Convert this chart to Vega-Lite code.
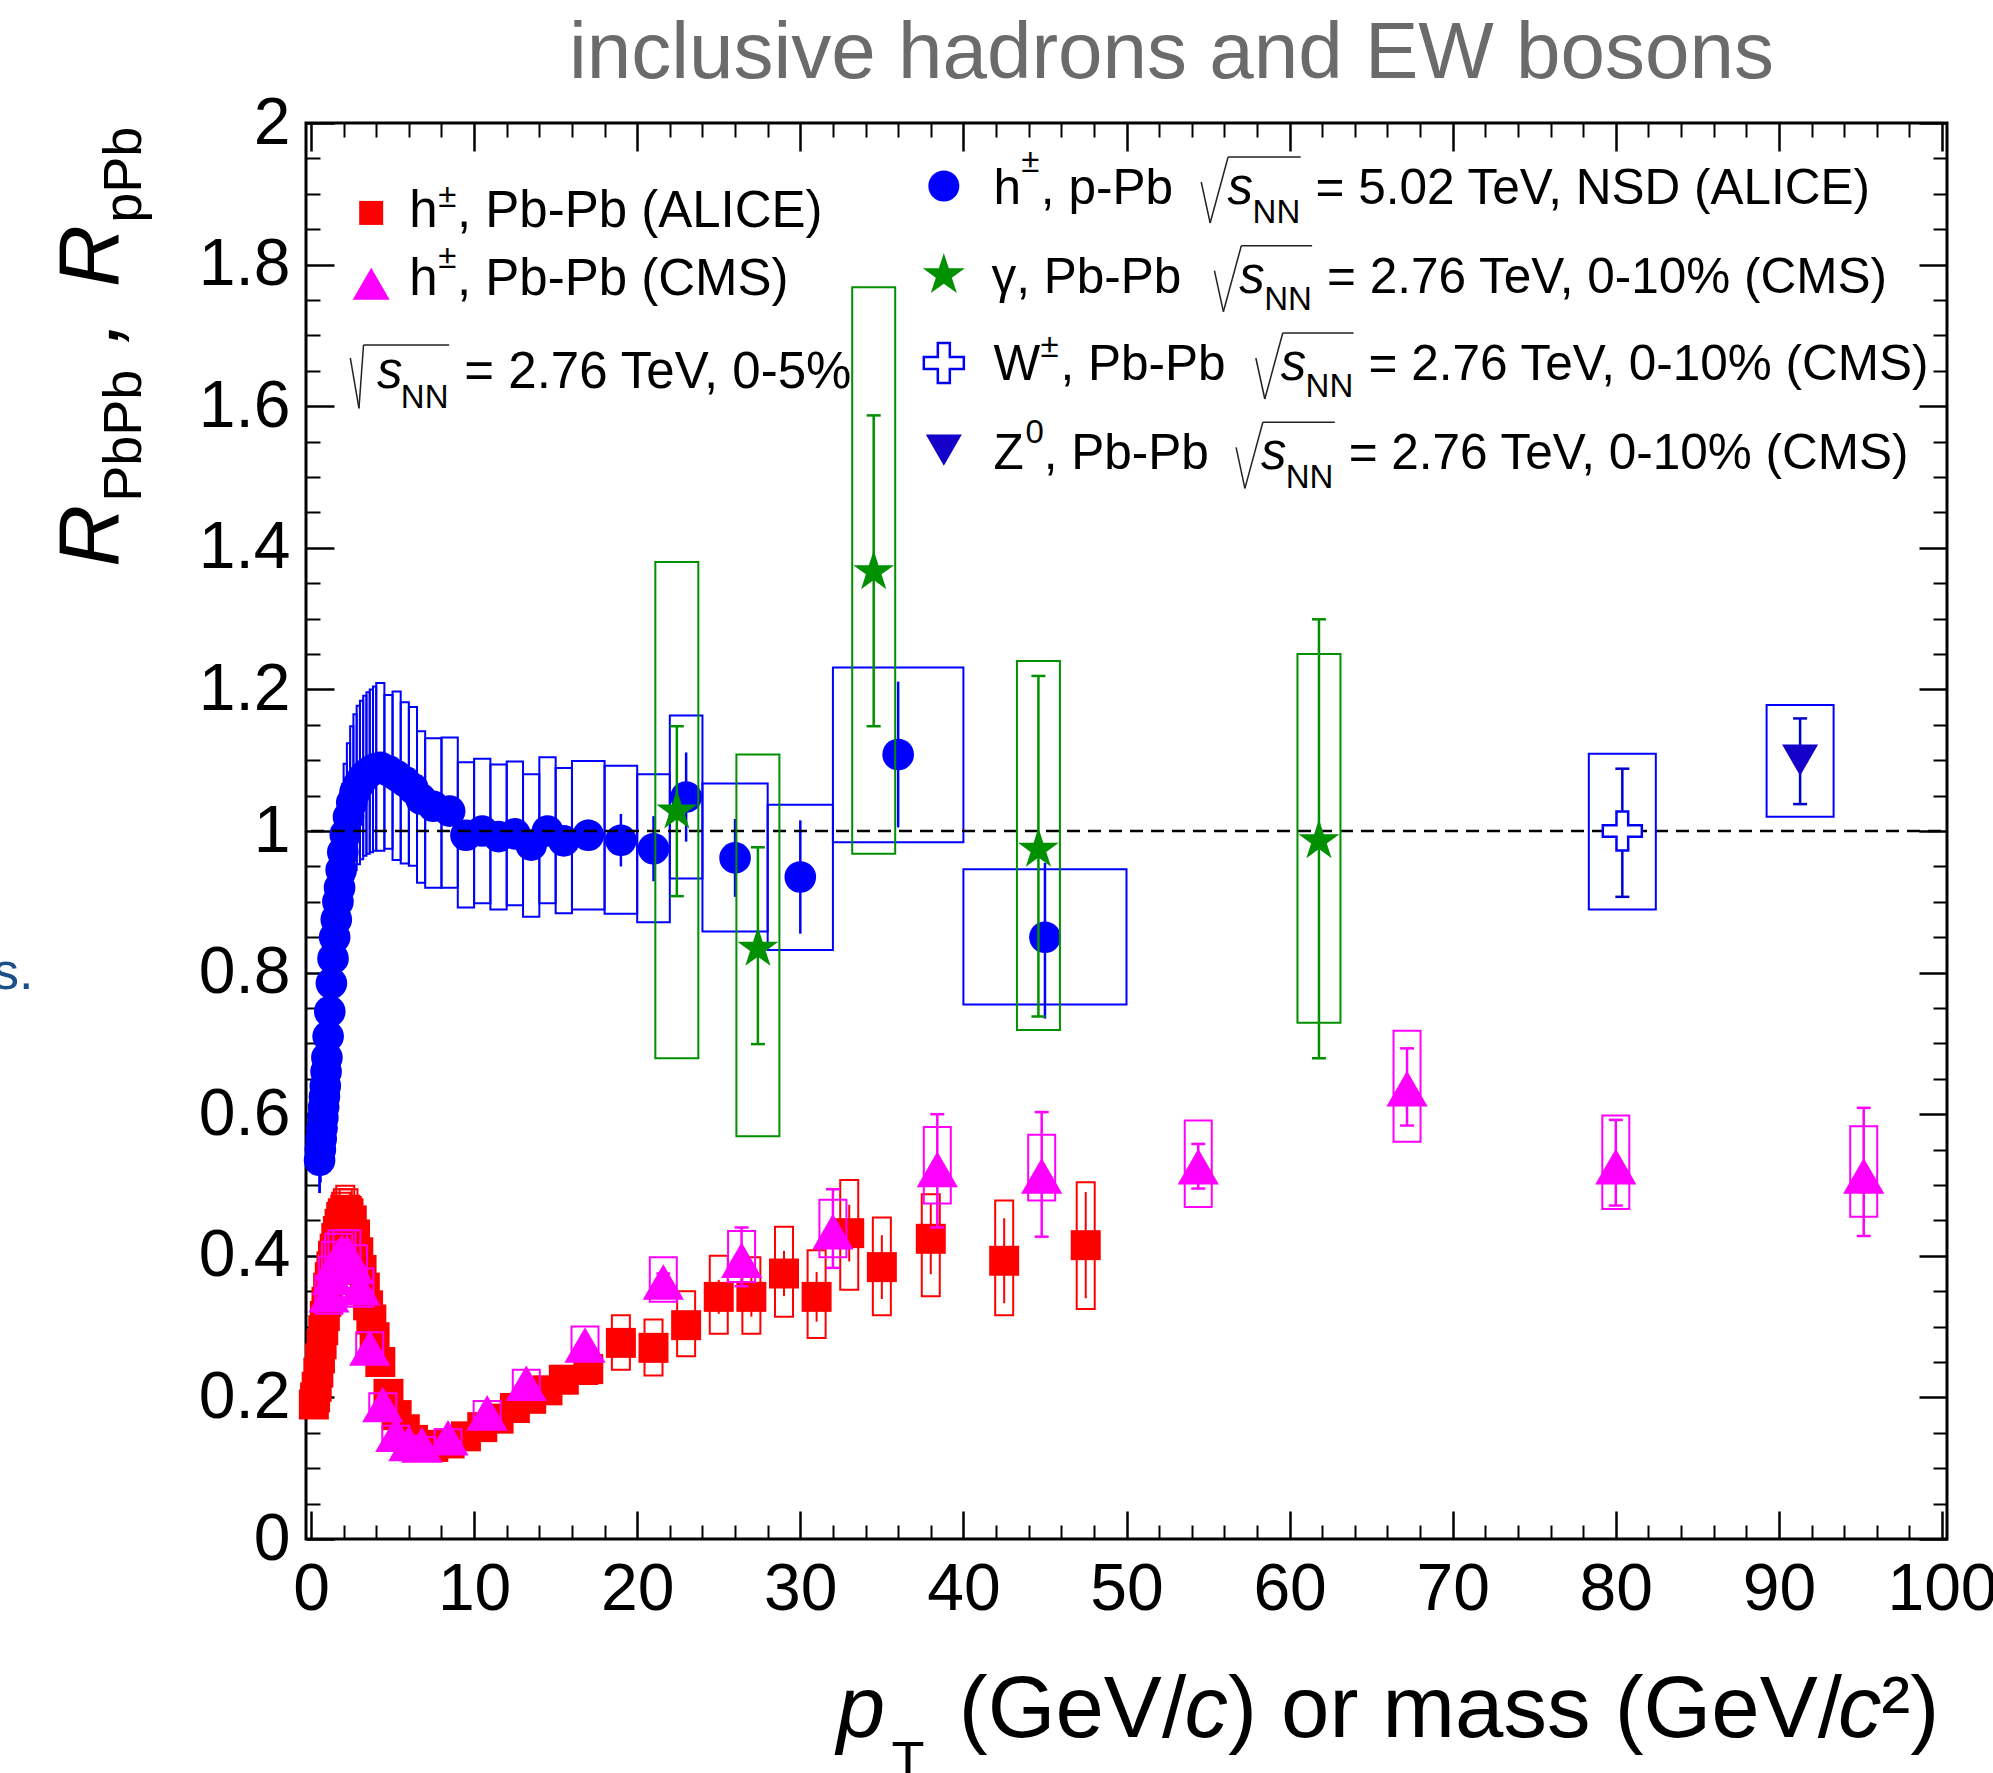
{
  "$schema": "https://vega.github.io/schema/vega-lite/v6.json",
  "width": 1641,
  "height": 1416,
  "autosize": {"type": "none"},
  "padding": {"left": 306, "top": 123, "right": 46, "bottom": 234},
  "background": "#ffffff",
  "title": {"text": "inclusive hadrons and EW bosons", "anchor": "middle", "frame": "group", "dx": 45, "offset": -68, "baseline": "alphabetic", "font": "Liberation Sans", "fontSize": 80, "fontWeight": "normal", "color": "#6b6b6b"},
  "config": {"view": {"stroke": "#000000", "strokeWidth": 3}, "font": "Liberation Sans"},
  "resolve": {"axis": {"x": "independent", "y": "independent"}},
  "datasets": {
    "pPb": [
      {"x":0.525,"xlo":0.5,"xhi":0.55,"y":0.535,"slo":0.49,"shi":0.58,"elo":0.532,"ehi":0.538},
      {"x":0.575,"xlo":0.55,"xhi":0.6,"y":0.55,"slo":0.505,"shi":0.595,"elo":0.547,"ehi":0.553},
      {"x":0.625,"xlo":0.6,"xhi":0.65,"y":0.565,"slo":0.518,"shi":0.612,"elo":0.562,"ehi":0.568},
      {"x":0.675,"xlo":0.65,"xhi":0.7,"y":0.58,"slo":0.53,"shi":0.63,"elo":0.577,"ehi":0.583},
      {"x":0.725,"xlo":0.7,"xhi":0.75,"y":0.595,"slo":0.543,"shi":0.647,"elo":0.592,"ehi":0.598},
      {"x":0.775,"xlo":0.75,"xhi":0.8,"y":0.61,"slo":0.556,"shi":0.664,"elo":0.607,"ehi":0.613},
      {"x":0.825,"xlo":0.8,"xhi":0.85,"y":0.625,"slo":0.568,"shi":0.682,"elo":0.622,"ehi":0.628},
      {"x":0.875,"xlo":0.85,"xhi":0.9,"y":0.64,"slo":0.58,"shi":0.7,"elo":0.637,"ehi":0.643},
      {"x":0.925,"xlo":0.9,"xhi":0.95,"y":0.66,"slo":0.598,"shi":0.722,"elo":0.657,"ehi":0.663},
      {"x":0.975,"xlo":0.95,"xhi":1.0,"y":0.68,"slo":0.616,"shi":0.744,"elo":0.677,"ehi":0.683},
      {"x":1.05,"xlo":1.0,"xhi":1.1,"y":0.71,"slo":0.643,"shi":0.777,"elo":0.707,"ehi":0.713},
      {"x":1.15,"xlo":1.1,"xhi":1.2,"y":0.745,"slo":0.674,"shi":0.816,"elo":0.742,"ehi":0.748},
      {"x":1.25,"xlo":1.2,"xhi":1.3,"y":0.785,"slo":0.71,"shi":0.86,"elo":0.782,"ehi":0.788},
      {"x":1.35,"xlo":1.3,"xhi":1.4,"y":0.82,"slo":0.741,"shi":0.899,"elo":0.817,"ehi":0.823},
      {"x":1.45,"xlo":1.4,"xhi":1.5,"y":0.85,"slo":0.768,"shi":0.932,"elo":0.847,"ehi":0.853},
      {"x":1.55,"xlo":1.5,"xhi":1.6,"y":0.875,"slo":0.79,"shi":0.96,"elo":0.872,"ehi":0.878},
      {"x":1.65,"xlo":1.6,"xhi":1.7,"y":0.9,"slo":0.812,"shi":0.988,"elo":0.897,"ehi":0.903},
      {"x":1.75,"xlo":1.7,"xhi":1.8,"y":0.92,"slo":0.83,"shi":1.01,"elo":0.917,"ehi":0.923},
      {"x":1.85,"xlo":1.8,"xhi":1.9,"y":0.945,"slo":0.852,"shi":1.038,"elo":0.942,"ehi":0.948},
      {"x":1.95,"xlo":1.9,"xhi":2.0,"y":0.97,"slo":0.874,"shi":1.066,"elo":0.967,"ehi":0.973},
      {"x":2.1,"xlo":2.0,"xhi":2.2,"y":0.995,"slo":0.895,"shi":1.095,"elo":0.992,"ehi":0.998},
      {"x":2.3,"xlo":2.2,"xhi":2.4,"y":1.02,"slo":0.916,"shi":1.124,"elo":1.017,"ehi":1.023},
      {"x":2.5,"xlo":2.4,"xhi":2.6,"y":1.04,"slo":0.932,"shi":1.148,"elo":1.037,"ehi":1.043},
      {"x":2.7,"xlo":2.6,"xhi":2.8,"y":1.055,"slo":0.945,"shi":1.165,"elo":1.052,"ehi":1.058},
      {"x":2.9,"xlo":2.8,"xhi":3.0,"y":1.065,"slo":0.953,"shi":1.177,"elo":1.062,"ehi":1.068},
      {"x":3.1,"xlo":3.0,"xhi":3.2,"y":1.072,"slo":0.96,"shi":1.184,"elo":1.068,"ehi":1.076},
      {"x":3.3,"xlo":3.2,"xhi":3.4,"y":1.078,"slo":0.965,"shi":1.191,"elo":1.074,"ehi":1.082},
      {"x":3.5,"xlo":3.4,"xhi":3.6,"y":1.082,"slo":0.968,"shi":1.196,"elo":1.078,"ehi":1.086},
      {"x":3.7,"xlo":3.6,"xhi":3.8,"y":1.085,"slo":0.97,"shi":1.2,"elo":1.081,"ehi":1.089},
      {"x":3.9,"xlo":3.8,"xhi":4.0,"y":1.088,"slo":0.972,"shi":1.204,"elo":1.084,"ehi":1.092},
      {"x":4.25,"xlo":4.0,"xhi":4.5,"y":1.09,"slo":0.972,"shi":1.209,"elo":1.085,"ehi":1.095},
      {"x":4.75,"xlo":4.5,"xhi":5.0,"y":1.085,"slo":0.975,"shi":1.192,"elo":1.08,"ehi":1.09},
      {"x":5.25,"xlo":5.0,"xhi":5.5,"y":1.078,"slo":0.959,"shi":1.197,"elo":1.072,"ehi":1.084},
      {"x":5.75,"xlo":5.5,"xhi":6.0,"y":1.07,"slo":0.954,"shi":1.182,"elo":1.063,"ehi":1.077},
      {"x":6.25,"xlo":6.0,"xhi":6.5,"y":1.06,"slo":0.951,"shi":1.175,"elo":1.053,"ehi":1.067},
      {"x":6.75,"xlo":6.5,"xhi":7.0,"y":1.045,"slo":0.927,"shi":1.141,"elo":1.037,"ehi":1.053},
      {"x":7.5,"xlo":7,"xhi":8,"y":1.035,"slo":0.92,"shi":1.131,"elo":1.026,"ehi":1.044},
      {"x":8.5,"xlo":8,"xhi":9,"y":1.028,"slo":0.92,"shi":1.132,"elo":1.017,"ehi":1.039},
      {"x":9.5,"xlo":9,"xhi":10,"y":0.994,"slo":0.892,"shi":1.097,"elo":0.982,"ehi":1.006},
      {"x":10.5,"xlo":10,"xhi":11,"y":1.0,"slo":0.898,"shi":1.102,"elo":0.987,"ehi":1.013},
      {"x":11.5,"xlo":11,"xhi":12,"y":0.992,"slo":0.889,"shi":1.094,"elo":0.978,"ehi":1.006},
      {"x":12.5,"xlo":12,"xhi":13,"y":0.996,"slo":0.895,"shi":1.098,"elo":0.981,"ehi":1.011},
      {"x":13.5,"xlo":13,"xhi":14,"y":0.98,"slo":0.879,"shi":1.08,"elo":0.963,"ehi":0.997},
      {"x":14.5,"xlo":14,"xhi":15,"y":1.0,"slo":0.898,"shi":1.104,"elo":0.982,"ehi":1.018},
      {"x":15.5,"xlo":15,"xhi":16,"y":0.986,"slo":0.884,"shi":1.089,"elo":0.966,"ehi":1.006},
      {"x":17,"xlo":16,"xhi":18,"y":0.994,"slo":0.889,"shi":1.099,"elo":0.972,"ehi":1.016},
      {"x":19,"xlo":18,"xhi":20,"y":0.987,"slo":0.883,"shi":1.092,"elo":0.95,"ehi":1.024},
      {"x":21,"xlo":20,"xhi":22,"y":0.975,"slo":0.871,"shi":1.08,"elo":0.929,"ehi":1.021},
      {"x":23,"xlo":22,"xhi":24,"y":1.048,"slo":0.933,"shi":1.163,"elo":0.985,"ehi":1.111},
      {"x":26,"xlo":24,"xhi":28,"y":0.962,"slo":0.858,"shi":1.067,"elo":0.907,"ehi":1.017},
      {"x":30,"xlo":28,"xhi":32,"y":0.935,"slo":0.832,"shi":1.037,"elo":0.855,"ehi":1.015},
      {"x":36,"xlo":32,"xhi":40,"y":1.108,"slo":0.984,"shi":1.231,"elo":1.005,"ehi":1.211},
      {"x":45,"xlo":40,"xhi":50,"y":0.85,"slo":0.755,"shi":0.946,"elo":0.735,"ehi":0.955}
    ],
    "PbPbALICE": [
      {"x":0.175,"y":0.19,"slo":0.172,"shi":0.208,"elo":0.189,"ehi":0.191},
      {"x":0.25,"y":0.2,"slo":0.181,"shi":0.219,"elo":0.199,"ehi":0.201},
      {"x":0.35,"y":0.215,"slo":0.195,"shi":0.235,"elo":0.214,"ehi":0.216},
      {"x":0.45,"y":0.235,"slo":0.214,"shi":0.256,"elo":0.234,"ehi":0.236},
      {"x":0.55,"y":0.255,"slo":0.232,"shi":0.278,"elo":0.254,"ehi":0.256},
      {"x":0.65,"y":0.275,"slo":0.251,"shi":0.299,"elo":0.274,"ehi":0.276},
      {"x":0.75,"y":0.295,"slo":0.27,"shi":0.32,"elo":0.294,"ehi":0.296},
      {"x":0.85,"y":0.315,"slo":0.289,"shi":0.341,"elo":0.314,"ehi":0.316},
      {"x":0.95,"y":0.335,"slo":0.308,"shi":0.362,"elo":0.334,"ehi":0.336},
      {"x":1.05,"y":0.355,"slo":0.327,"shi":0.383,"elo":0.354,"ehi":0.356},
      {"x":1.15,"y":0.37,"slo":0.341,"shi":0.399,"elo":0.369,"ehi":0.371},
      {"x":1.25,"y":0.385,"slo":0.355,"shi":0.415,"elo":0.384,"ehi":0.386},
      {"x":1.35,"y":0.4,"slo":0.369,"shi":0.431,"elo":0.399,"ehi":0.401},
      {"x":1.45,"y":0.41,"slo":0.379,"shi":0.441,"elo":0.409,"ehi":0.411},
      {"x":1.55,"y":0.425,"slo":0.393,"shi":0.457,"elo":0.424,"ehi":0.426},
      {"x":1.65,"y":0.435,"slo":0.403,"shi":0.467,"elo":0.434,"ehi":0.436},
      {"x":1.75,"y":0.445,"slo":0.412,"shi":0.478,"elo":0.444,"ehi":0.446},
      {"x":1.85,"y":0.455,"slo":0.421,"shi":0.489,"elo":0.454,"ehi":0.456},
      {"x":1.95,"y":0.46,"slo":0.426,"shi":0.494,"elo":0.459,"ehi":0.461},
      {"x":2.1,"y":0.465,"slo":0.431,"shi":0.499,"elo":0.464,"ehi":0.466},
      {"x":2.3,"y":0.46,"slo":0.426,"shi":0.494,"elo":0.459,"ehi":0.461},
      {"x":2.5,"y":0.45,"slo":0.417,"shi":0.483,"elo":0.449,"ehi":0.451},
      {"x":2.7,"y":0.43,"slo":0.398,"shi":0.462,"elo":0.429,"ehi":0.431},
      {"x":2.9,"y":0.405,"slo":0.375,"shi":0.435,"elo":0.404,"ehi":0.406},
      {"x":3.1,"y":0.38,"slo":0.352,"shi":0.408,"elo":0.379,"ehi":0.381},
      {"x":3.3,"y":0.355,"slo":0.329,"shi":0.381,"elo":0.354,"ehi":0.356},
      {"x":3.5,"y":0.33,"slo":0.306,"shi":0.354,"elo":0.329,"ehi":0.331},
      {"x":3.7,"y":0.31,"slo":0.288,"shi":0.332,"elo":0.309,"ehi":0.311},
      {"x":3.9,"y":0.285,"slo":0.265,"shi":0.305,"elo":0.284,"ehi":0.286},
      {"x":4.25,"y":0.25,"slo":0.232,"shi":0.268,"elo":0.249,"ehi":0.251},
      {"x":4.75,"y":0.205,"slo":0.19,"shi":0.22,"elo":0.204,"ehi":0.206},
      {"x":5.25,"y":0.175,"slo":0.162,"shi":0.188,"elo":0.174,"ehi":0.176},
      {"x":5.75,"y":0.155,"slo":0.143,"shi":0.167,"elo":0.154,"ehi":0.156},
      {"x":6.25,"y":0.14,"slo":0.129,"shi":0.151,"elo":0.139,"ehi":0.141},
      {"x":6.75,"y":0.133,"slo":0.122,"shi":0.144,"elo":0.132,"ehi":0.134},
      {"x":7.5,"y":0.13,"slo":0.119,"shi":0.141,"elo":0.129,"ehi":0.131},
      {"x":8.5,"y":0.135,"slo":0.124,"shi":0.146,"elo":0.134,"ehi":0.136},
      {"x":9.5,"y":0.145,"slo":0.133,"shi":0.157,"elo":0.143,"ehi":0.147},
      {"x":10.5,"y":0.158,"slo":0.145,"shi":0.171,"elo":0.156,"ehi":0.16},
      {"x":11.5,"y":0.17,"slo":0.156,"shi":0.184,"elo":0.168,"ehi":0.172},
      {"x":12.5,"y":0.185,"slo":0.17,"shi":0.2,"elo":0.182,"ehi":0.188},
      {"x":13.5,"y":0.198,"slo":0.182,"shi":0.214,"elo":0.195,"ehi":0.201},
      {"x":14.5,"y":0.21,"slo":0.193,"shi":0.227,"elo":0.206,"ehi":0.214},
      {"x":15.5,"y":0.225,"slo":0.206,"shi":0.244,"elo":0.221,"ehi":0.229},
      {"x":17,"y":0.24,"slo":0.219,"shi":0.261,"elo":0.235,"ehi":0.245},
      {"x":19,"y":0.277,"slo":0.239,"shi":0.316,"elo":0.262,"ehi":0.292},
      {"x":21,"y":0.27,"slo":0.231,"shi":0.31,"elo":0.253,"ehi":0.287},
      {"x":23,"y":0.302,"slo":0.258,"shi":0.35,"elo":0.282,"ehi":0.322},
      {"x":25,"y":0.342,"slo":0.29,"shi":0.4,"elo":0.318,"ehi":0.366},
      {"x":27,"y":0.342,"slo":0.29,"shi":0.398,"elo":0.314,"ehi":0.37},
      {"x":29,"y":0.375,"slo":0.314,"shi":0.441,"elo":0.343,"ehi":0.407},
      {"x":31,"y":0.342,"slo":0.284,"shi":0.408,"elo":0.307,"ehi":0.377},
      {"x":33,"y":0.432,"slo":0.352,"shi":0.507,"elo":0.392,"ehi":0.472},
      {"x":35,"y":0.384,"slo":0.316,"shi":0.454,"elo":0.339,"ehi":0.429},
      {"x":38,"y":0.424,"slo":0.343,"shi":0.487,"elo":0.374,"ehi":0.474},
      {"x":42.5,"y":0.393,"slo":0.316,"shi":0.478,"elo":0.333,"ehi":0.453},
      {"x":47.5,"y":0.415,"slo":0.325,"shi":0.504,"elo":0.34,"ehi":0.49}
    ],
    "PbPbCMS": [
      {"x":1.1,"y":0.345,"slo":0.318,"shi":0.372,"elo":0.343,"ehi":0.347},
      {"x":1.3,"y":0.37,"slo":0.341,"shi":0.399,"elo":0.368,"ehi":0.372},
      {"x":1.5,"y":0.39,"slo":0.36,"shi":0.42,"elo":0.388,"ehi":0.392},
      {"x":1.7,"y":0.4,"slo":0.369,"shi":0.431,"elo":0.398,"ehi":0.402},
      {"x":1.9,"y":0.405,"slo":0.374,"shi":0.436,"elo":0.403,"ehi":0.407},
      {"x":2.2,"y":0.405,"slo":0.374,"shi":0.436,"elo":0.403,"ehi":0.407},
      {"x":2.6,"y":0.385,"slo":0.355,"shi":0.415,"elo":0.383,"ehi":0.387},
      {"x":3.0,"y":0.355,"slo":0.328,"shi":0.382,"elo":0.353,"ehi":0.357},
      {"x":3.6,"y":0.27,"slo":0.248,"shi":0.292,"elo":0.268,"ehi":0.272},
      {"x":4.4,"y":0.19,"slo":0.174,"shi":0.206,"elo":0.188,"ehi":0.192},
      {"x":5.2,"y":0.148,"slo":0.136,"shi":0.16,"elo":0.146,"ehi":0.15},
      {"x":6.0,"y":0.135,"slo":0.124,"shi":0.146,"elo":0.133,"ehi":0.137},
      {"x":6.8,"y":0.133,"slo":0.122,"shi":0.144,"elo":0.131,"ehi":0.135},
      {"x":8.4,"y":0.143,"slo":0.131,"shi":0.155,"elo":0.141,"ehi":0.145},
      {"x":10.8,"y":0.178,"slo":0.157,"shi":0.195,"elo":0.175,"ehi":0.181},
      {"x":13.2,"y":0.22,"slo":0.2,"shi":0.239,"elo":0.216,"ehi":0.224},
      {"x":16.8,"y":0.274,"slo":0.257,"shi":0.3,"elo":0.268,"ehi":0.28},
      {"x":21.6,"y":0.363,"slo":0.335,"shi":0.398,"elo":0.35,"ehi":0.375},
      {"x":26.4,"y":0.394,"slo":0.363,"shi":0.435,"elo":0.357,"ehi":0.44},
      {"x":32.0,"y":0.434,"slo":0.398,"shi":0.479,"elo":0.383,"ehi":0.494},
      {"x":38.4,"y":0.522,"slo":0.474,"shi":0.582,"elo":0.44,"ehi":0.6},
      {"x":44.8,"y":0.513,"slo":0.478,"shi":0.571,"elo":0.427,"ehi":0.603},
      {"x":54.4,"y":0.526,"slo":0.469,"shi":0.591,"elo":0.495,"ehi":0.558},
      {"x":67.2,"y":0.636,"slo":0.561,"shi":0.718,"elo":0.584,"ehi":0.693},
      {"x":80.0,"y":0.526,"slo":0.466,"shi":0.598,"elo":0.471,"ehi":0.592},
      {"x":95.2,"y":0.513,"slo":0.455,"shi":0.583,"elo":0.428,"ehi":0.609}
    ],
    "gamma": [
      {"x":22.43,"y":1.031,"slo":0.679,"shi":1.38,"elo":0.908,"ehi":1.148},
      {"x":27.4,"y":0.837,"slo":0.569,"shi":1.108,"elo":0.699,"ehi":0.977},
      {"x":34.5,"y":1.369,"slo":0.968,"shi":1.768,"elo":1.148,"ehi":1.587},
      {"x":44.6,"y":0.977,"slo":0.719,"shi":1.24,"elo":0.738,"ehi":1.219},
      {"x":61.8,"y":0.989,"slo":0.729,"shi":1.25,"elo":0.679,"ehi":1.299}
    ],
    "W": [{"x":80.4,"y":1.0,"slo":0.889,"shi":1.109,"elo":0.907,"ehi":1.088}],
    "Z": [{"x":91.3,"y":1.1,"slo":1.02,"shi":1.178,"elo":1.038,"ehi":1.159}],
    "one": [{}]
  },
  "layer": [
    {
      "data": {"name": "pPb"},
      "mark": {"type": "rect", "fillOpacity": 0, "stroke": "#0000ff", "strokeWidth": 2},
      "encoding": {
        "x": {"field": "xlo", "type": "quantitative", "scale": {"domain": [0, 100], "nice": false, "zero": false},
          "axis": {"orient": "bottom", "values": [0,10,20,30,40,50,60,70,80,90,100], "format": "d", "tickSize": -28, "tickWidth": 2.5, "tickColor": "#000000", "domain": false, "grid": false, "labelFont": "Liberation Sans", "labelFontSize": 66, "labelColor": "#000000", "labelPadding": 46, "labelFlush": false, "labelOverlap": false, "title": null}},
        "x2": {"field": "xhi"},
        "y": {"field": "slo", "type": "quantitative", "scale": {"domain": [0, 2], "nice": false, "zero": false},
          "axis": {"orient": "left", "values": [0,0.2,0.4,0.6,0.8,1,1.2,1.4,1.6,1.8,2], "format": "~g", "tickSize": -28, "tickWidth": 2.5, "tickColor": "#000000", "domain": false, "grid": false, "labelFont": "Liberation Sans", "labelFontSize": 66, "labelColor": "#000000", "labelPadding": 44, "labelFlush": false, "labelOverlap": false, "title": null}},
        "y2": {"field": "shi"}
      }
    },
    {
      "data": {"name": "pPb"},
      "mark": {"type": "rule", "color": "#0000ff", "strokeWidth": 2.5},
      "encoding": {
        "x": {"field": "x", "type": "quantitative",
          "axis": {"orient": "bottom", "values": [2,4,6,8,12,14,16,18,22,24,26,28,32,34,36,38,42,44,46,48,52,54,56,58,62,64,66,68,72,74,76,78,82,84,86,88,92,94,96,98], "tickSize": -14, "tickWidth": 2, "tickColor": "#000000", "labels": false, "domain": false, "grid": false, "title": null}},
        "y": {"field": "elo", "type": "quantitative",
          "axis": {"orient": "left", "values": [0.05,0.1,0.15,0.25,0.3,0.35,0.45,0.5,0.55,0.65,0.7,0.75,0.85,0.9,0.95,1.05,1.1,1.15,1.25,1.3,1.35,1.45,1.5,1.55,1.65,1.7,1.75,1.85,1.9,1.95], "tickSize": -14, "tickWidth": 2, "tickColor": "#000000", "labels": false, "domain": false, "grid": false, "title": null}},
        "y2": {"field": "ehi"}
      }
    },
    {
      "data": {"name": "pPb"},
      "mark": {"type": "point", "shape": "circle", "filled": true, "size": 1000, "color": "#0000ff", "opacity": 1},
      "encoding": {
        "x": {"field": "x", "type": "quantitative",
          "axis": {"orient": "top", "values": [0,10,20,30,40,50,60,70,80,90,100], "tickSize": -28, "tickWidth": 2.5, "tickColor": "#000000", "labels": false, "domain": false, "grid": false, "title": null}},
        "y": {"field": "y", "type": "quantitative",
          "axis": {"orient": "right", "values": [0,0.2,0.4,0.6,0.8,1,1.2,1.4,1.6,1.8,2], "tickSize": -28, "tickWidth": 2.5, "tickColor": "#000000", "labels": false, "domain": false, "grid": false, "title": null}}
      }
    },
    {
      "data": {"name": "PbPbALICE"},
      "mark": {"type": "bar", "size": 18, "fillOpacity": 0, "stroke": "#ff0000", "strokeWidth": 2},
      "encoding": {
        "x": {"field": "x", "type": "quantitative",
          "axis": {"orient": "top", "values": [2,4,6,8,12,14,16,18,22,24,26,28,32,34,36,38,42,44,46,48,52,54,56,58,62,64,66,68,72,74,76,78,82,84,86,88,92,94,96,98], "tickSize": -14, "tickWidth": 2, "tickColor": "#000000", "labels": false, "domain": false, "grid": false, "title": null}},
        "y": {"field": "slo", "type": "quantitative",
          "axis": {"orient": "right", "values": [0.05,0.1,0.15,0.25,0.3,0.35,0.45,0.5,0.55,0.65,0.7,0.75,0.85,0.9,0.95,1.05,1.1,1.15,1.25,1.3,1.35,1.45,1.5,1.55,1.65,1.7,1.75,1.85,1.9,1.95], "tickSize": -14, "tickWidth": 2, "tickColor": "#000000", "labels": false, "domain": false, "grid": false, "title": null}},
        "y2": {"field": "shi"}
      }
    },
    {
      "data": {"name": "PbPbALICE"},
      "mark": {"type": "rule", "color": "#ff0000", "strokeWidth": 2},
      "encoding": {
        "x": {"field": "x", "type": "quantitative", "axis": null},
        "y": {"field": "elo", "type": "quantitative", "axis": null},
        "y2": {"field": "ehi"}
      }
    },
    {
      "data": {"name": "PbPbALICE"},
      "mark": {"type": "point", "shape": "square", "filled": true, "size": 900, "color": "#ff0000", "opacity": 1},
      "encoding": {
        "x": {"field": "x", "type": "quantitative", "axis": null},
        "y": {"field": "y", "type": "quantitative", "axis": null}
      }
    },
    {
      "data": {"name": "one"},
      "mark": {"type": "rule", "color": "#000000", "strokeWidth": 2.5, "strokeDash": [13, 8]},
      "encoding": {
        "x": {"datum": 0, "axis": null},
        "x2": {"datum": 100},
        "y": {"datum": 1, "axis": null}
      }
    },
    {
      "data": {"name": "PbPbCMS"},
      "mark": {"type": "bar", "size": 27, "fillOpacity": 0, "stroke": "#ff00ff", "strokeWidth": 2},
      "encoding": {
        "x": {"field": "x", "type": "quantitative", "axis": null},
        "y": {"field": "slo", "type": "quantitative", "axis": null},
        "y2": {"field": "shi"}
      }
    },
    {
      "data": {"name": "PbPbCMS"},
      "mark": {"type": "rule", "color": "#ff00ff", "strokeWidth": 2.5},
      "encoding": {
        "x": {"field": "x", "type": "quantitative", "axis": null},
        "y": {"field": "elo", "type": "quantitative", "axis": null},
        "y2": {"field": "ehi"}
      }
    },
    {
      "data": {"name": "PbPbCMS"},
      "transform": [{"fold": ["elo", "ehi"], "as": ["k", "v"]}],
      "mark": {"type": "tick", "orient": "horizontal", "size": 14, "thickness": 2.5, "color": "#ff00ff", "opacity": 1},
      "encoding": {
        "x": {"field": "x", "type": "quantitative", "axis": null},
        "y": {"field": "v", "type": "quantitative", "axis": null}
      }
    },
    {
      "data": {"name": "PbPbCMS"},
      "mark": {"type": "point", "shape": "triangle-up", "filled": true, "size": 1700, "color": "#ff00ff", "opacity": 1},
      "encoding": {
        "x": {"field": "x", "type": "quantitative", "axis": null},
        "y": {"field": "y", "type": "quantitative", "axis": null}
      }
    },
    {
      "data": {"name": "gamma"},
      "mark": {"type": "bar", "size": 43, "fillOpacity": 0, "stroke": "#009000", "strokeWidth": 2},
      "encoding": {
        "x": {"field": "x", "type": "quantitative", "axis": null},
        "y": {"field": "slo", "type": "quantitative", "axis": null},
        "y2": {"field": "shi"}
      }
    },
    {
      "data": {"name": "gamma"},
      "mark": {"type": "rule", "color": "#009000", "strokeWidth": 2.5},
      "encoding": {
        "x": {"field": "x", "type": "quantitative", "axis": null},
        "y": {"field": "elo", "type": "quantitative", "axis": null},
        "y2": {"field": "ehi"}
      }
    },
    {
      "data": {"name": "gamma"},
      "transform": [{"fold": ["elo", "ehi"], "as": ["k", "v"]}],
      "mark": {"type": "tick", "orient": "horizontal", "size": 14, "thickness": 2.5, "color": "#009000", "opacity": 1},
      "encoding": {
        "x": {"field": "x", "type": "quantitative", "axis": null},
        "y": {"field": "v", "type": "quantitative", "axis": null}
      }
    },
    {
      "data": {"name": "gamma"},
      "mark": {"type": "point", "shape": "M0,-0.905L0.225,-0.214L0.951,-0.214L0.363,0.214L0.588,0.905L0,0.478L-0.588,0.905L-0.363,0.214L-0.951,-0.214L-0.225,-0.214Z", "filled": true, "size": 1850, "color": "#009000", "opacity": 1},
      "encoding": {
        "x": {"field": "x", "type": "quantitative", "axis": null},
        "y": {"field": "y", "type": "quantitative", "axis": null}
      }
    },
    {
      "data": {"name": "W"},
      "mark": {"type": "bar", "size": 67, "fillOpacity": 0, "stroke": "#0000ff", "strokeWidth": 2},
      "encoding": {
        "x": {"field": "x", "type": "quantitative", "axis": null},
        "y": {"field": "slo", "type": "quantitative", "axis": null},
        "y2": {"field": "shi"}
      }
    },
    {
      "data": {"name": "W"},
      "mark": {"type": "rule", "color": "#0000cc", "strokeWidth": 2.5},
      "encoding": {
        "x": {"field": "x", "type": "quantitative", "axis": null},
        "y": {"field": "elo", "type": "quantitative", "axis": null},
        "y2": {"field": "ehi"}
      }
    },
    {
      "data": {"name": "W"},
      "transform": [{"fold": ["elo", "ehi"], "as": ["k", "v"]}],
      "mark": {"type": "tick", "orient": "horizontal", "size": 14, "thickness": 2.5, "color": "#0000cc", "opacity": 1},
      "encoding": {
        "x": {"field": "x", "type": "quantitative", "axis": null},
        "y": {"field": "v", "type": "quantitative", "axis": null}
      }
    },
    {
      "data": {"name": "W"},
      "mark": {"type": "point", "shape": "M-0.3,-1L0.3,-1L0.3,-0.3L1,-0.3L1,0.3L0.3,0.3L0.3,1L-0.3,1L-0.3,0.3L-1,0.3L-1,-0.3L-0.3,-0.3Z", "filled": false, "fill": "#ffffff", "fillOpacity": 1, "stroke": "#0000ff", "strokeWidth": 2.5, "size": 1521, "opacity": 1},
      "encoding": {
        "x": {"field": "x", "type": "quantitative", "axis": null},
        "y": {"field": "y", "type": "quantitative", "axis": null}
      }
    },
    {
      "data": {"name": "Z"},
      "mark": {"type": "bar", "size": 67, "fillOpacity": 0, "stroke": "#0000ff", "strokeWidth": 2},
      "encoding": {
        "x": {"field": "x", "type": "quantitative", "axis": null},
        "y": {"field": "slo", "type": "quantitative", "axis": null},
        "y2": {"field": "shi"}
      }
    },
    {
      "data": {"name": "Z"},
      "mark": {"type": "rule", "color": "#0000cc", "strokeWidth": 2.5},
      "encoding": {
        "x": {"field": "x", "type": "quantitative", "axis": null},
        "y": {"field": "elo", "type": "quantitative", "axis": null},
        "y2": {"field": "ehi"}
      }
    },
    {
      "data": {"name": "Z"},
      "transform": [{"fold": ["elo", "ehi"], "as": ["k", "v"]}],
      "mark": {"type": "tick", "orient": "horizontal", "size": 14, "thickness": 2.5, "color": "#0000cc", "opacity": 1},
      "encoding": {
        "x": {"field": "x", "type": "quantitative", "axis": null},
        "y": {"field": "v", "type": "quantitative", "axis": null}
      }
    },
    {
      "data": {"name": "Z"},
      "mark": {"type": "point", "shape": "triangle-down", "filled": true, "size": 1296, "color": "#1400c8", "opacity": 1},
      "encoding": {
        "x": {"field": "x", "type": "quantitative", "axis": null},
        "y": {"field": "y", "type": "quantitative", "axis": null}
      }
    },
    {
      "data": {"name": "one"},
      "mark": {"type": "point", "shape": "square", "filled": true, "size": 576, "color": "#ff0000", "opacity": 1},
      "encoding": {"x": {"datum": 3.69, "axis": null}, "y": {"datum": 1.873, "axis": null}}
    },
    {
      "data": {"name": "one"},
      "mark": {"type": "point", "shape": "triangle-up", "filled": true, "size": 1369, "color": "#ff00ff", "opacity": 1},
      "encoding": {"x": {"datum": 3.69, "axis": null}, "y": {"datum": 1.773, "axis": null}}
    },
    {
      "data": {"name": "one"},
      "mark": {"type": "point", "shape": "circle", "filled": true, "size": 961, "color": "#0000ff", "opacity": 1},
      "encoding": {"x": {"datum": 38.8, "axis": null}, "y": {"datum": 1.911, "axis": null}}
    },
    {
      "data": {"name": "one"},
      "mark": {"type": "point", "shape": "M0,-0.905L0.225,-0.214L0.951,-0.214L0.363,0.214L0.588,0.905L0,0.478L-0.588,0.905L-0.363,0.214L-0.951,-0.214L-0.225,-0.214Z", "filled": true, "size": 1950, "color": "#009000", "opacity": 1},
      "encoding": {"x": {"datum": 38.8, "axis": null}, "y": {"datum": 1.788, "axis": null}}
    },
    {
      "data": {"name": "one"},
      "mark": {"type": "point", "shape": "M-0.3,-1L0.3,-1L0.3,-0.3L1,-0.3L1,0.3L0.3,0.3L0.3,1L-0.3,1L-0.3,0.3L-1,0.3L-1,-0.3L-0.3,-0.3Z", "filled": false, "fill": "#ffffff", "fillOpacity": 1, "stroke": "#0000ff", "strokeWidth": 2.5, "size": 1600, "opacity": 1},
      "encoding": {"x": {"datum": 38.8, "axis": null}, "y": {"datum": 1.661, "axis": null}}
    },
    {
      "data": {"name": "one"},
      "mark": {"type": "point", "shape": "triangle-down", "filled": true, "size": 1296, "color": "#1400c8", "opacity": 1},
      "encoding": {"x": {"datum": 38.8, "axis": null}, "y": {"datum": 1.538, "axis": null}}
    },
    {
      "data": {"values": [
        {"t": "h", "x": 6.02, "y": 1.8535},
        {"t": ", Pb-Pb (ALICE)", "x": 8.95, "y": 1.8535},
        {"t": "h", "x": 6.02, "y": 1.757},
        {"t": ", Pb-Pb (CMS)", "x": 8.95, "y": 1.757},
        {"t": "= 2.76 TeV, 0-5%", "x": 9.4, "y": 1.6253}
      ]},
      "mark": {"type": "text", "font": "Liberation Sans", "fontSize": 51, "align": "left", "baseline": "alphabetic", "color": "#000000"},
      "encoding": {
        "x": {"field": "x", "type": "quantitative", "axis": null},
        "y": {"field": "y", "type": "quantitative", "axis": null},
        "text": {"field": "t"}
      }
    },
    {
      "data": {"values": [
        {"t": "h", "x": 41.85, "y": 1.8856},
        {"t": ", p-Pb", "x": 44.75, "y": 1.8856},
        {"t": "= 5.02 TeV, NSD (ALICE)", "x": 61.59, "y": 1.8856},
        {"t": "γ, Pb-Pb", "x": 41.72, "y": 1.7603},
        {"t": "= 2.76 TeV, 0-10% (CMS)", "x": 62.3, "y": 1.7603},
        {"t": "W", "x": 41.85, "y": 1.637},
        {"t": ", Pb-Pb", "x": 45.95, "y": 1.637},
        {"t": "= 2.76 TeV, 0-10% (CMS)", "x": 64.84, "y": 1.637},
        {"t": "Z", "x": 41.85, "y": 1.5109},
        {"t": ", Pb-Pb", "x": 44.93, "y": 1.5109},
        {"t": "= 2.76 TeV, 0-10% (CMS)", "x": 63.62, "y": 1.5109}
      ]},
      "mark": {"type": "text", "font": "Liberation Sans", "fontSize": 49.5, "align": "left", "baseline": "alphabetic", "color": "#000000"},
      "encoding": {
        "x": {"field": "x", "type": "quantitative", "axis": null},
        "y": {"field": "y", "type": "quantitative", "axis": null},
        "text": {"field": "t"}
      }
    },
    {
      "data": {"values": [
        {"t": "s", "x": 4.04, "y": 1.6253},
        {"t": "s", "x": 56.2, "y": 1.8856},
        {"t": "s", "x": 56.92, "y": 1.7603},
        {"t": "s", "x": 59.46, "y": 1.637},
        {"t": "s", "x": 58.24, "y": 1.5109}
      ]},
      "mark": {"type": "text", "font": "Liberation Sans", "fontSize": 51, "fontStyle": "italic", "align": "left", "baseline": "alphabetic", "color": "#000000"},
      "encoding": {
        "x": {"field": "x", "type": "quantitative", "axis": null},
        "y": {"field": "y", "type": "quantitative", "axis": null},
        "text": {"field": "t"}
      }
    },
    {
      "data": {"values": [
        {"t": "NN", "x": 5.51, "y": 1.597},
        {"t": "NN", "x": 57.73, "y": 1.8588},
        {"t": "NN", "x": 58.44, "y": 1.7359},
        {"t": "NN", "x": 60.98, "y": 1.613},
        {"t": "NN", "x": 59.76, "y": 1.484},
        {"t": "±", "x": 7.8, "y": 1.882},
        {"t": "±", "x": 7.8, "y": 1.795},
        {"t": "±", "x": 43.55, "y": 1.9307},
        {"t": "±", "x": 44.73, "y": 1.67},
        {"t": "0", "x": 43.81, "y": 1.5476}
      ]},
      "mark": {"type": "text", "font": "Liberation Sans", "fontSize": 33, "align": "left", "baseline": "alphabetic", "color": "#000000"},
      "encoding": {
        "x": {"field": "x", "type": "quantitative", "axis": null},
        "y": {"field": "y", "type": "quantitative", "axis": null},
        "text": {"field": "t"}
      }
    },
    {
      "data": {"values": [
        {"x": 54.58, "y": 1.9167, "x2": 55.13, "y2": 1.8588},
        {"x": 55.13, "y": 1.8588, "x2": 56.23, "y2": 1.952},
        {"x": 56.23, "y": 1.952, "x2": 60.68, "y2": 1.952},
        {"x": 55.39, "y": 1.7914, "x2": 55.94, "y2": 1.7335},
        {"x": 55.94, "y": 1.7335, "x2": 57.04, "y2": 1.8267},
        {"x": 57.04, "y": 1.8267, "x2": 61.38, "y2": 1.8267},
        {"x": 57.93, "y": 1.6681, "x2": 58.48, "y2": 1.6102},
        {"x": 58.48, "y": 1.6102, "x2": 59.58, "y2": 1.7034},
        {"x": 59.58, "y": 1.7034, "x2": 63.92, "y2": 1.7034},
        {"x": 56.72, "y": 1.5419, "x2": 57.26, "y2": 1.484},
        {"x": 57.26, "y": 1.484, "x2": 58.36, "y2": 1.5773},
        {"x": 58.36, "y": 1.5773, "x2": 62.77, "y2": 1.5773},
        {"x": 2.41, "y": 1.6681, "x2": 2.94, "y2": 1.597},
        {"x": 2.94, "y": 1.597, "x2": 3.22, "y2": 1.6864},
        {"x": 3.22, "y": 1.6864, "x2": 8.47, "y2": 1.6864}
      ]},
      "mark": {"type": "rule", "color": "#222222", "strokeWidth": 1.5},
      "encoding": {
        "x": {"field": "x", "type": "quantitative", "axis": null},
        "y": {"field": "y", "type": "quantitative", "axis": null},
        "x2": {"field": "x2"},
        "y2": {"field": "y2"}
      }
    },
    {
      "data": {"values": [
        {"t": "R", "x": -11.82, "y": 1.373},
        {"t": ",", "x": -11.82, "y": 1.688},
        {"t": "R", "x": -11.82, "y": 1.768}
      ]},
      "mark": {"type": "text", "font": "Liberation Sans", "fontSize": 86, "fontStyle": "italic", "angle": 270, "align": "left", "baseline": "alphabetic", "color": "#000000"},
      "encoding": {
        "x": {"field": "x", "type": "quantitative", "axis": null},
        "y": {"field": "y", "type": "quantitative", "axis": null},
        "text": {"field": "t"}
      }
    },
    {
      "data": {"values": [
        {"t": "PbPb", "x": -10.42, "y": 1.465},
        {"t": "pPb", "x": -10.42, "y": 1.859}
      ]},
      "mark": {"type": "text", "font": "Liberation Sans", "fontSize": 54, "angle": 270, "align": "left", "baseline": "alphabetic", "color": "#000000"},
      "encoding": {
        "x": {"field": "x", "type": "quantitative", "axis": null},
        "y": {"field": "y", "type": "quantitative", "axis": null},
        "text": {"field": "t"}
      }
    },
    {
      "data": {"values": [
        {"t": "p", "x": 32.24, "y": -0.2797},
        {"t": "c", "x": 53.56, "y": -0.2797},
        {"t": "c", "x": 93.63, "y": -0.2797}
      ]},
      "mark": {"type": "text", "font": "Liberation Sans", "fontSize": 87, "fontStyle": "italic", "align": "left", "baseline": "alphabetic", "color": "#000000"},
      "encoding": {
        "x": {"field": "x", "type": "quantitative", "axis": null},
        "y": {"field": "y", "type": "quantitative", "axis": null},
        "text": {"field": "t"}
      }
    },
    {
      "data": {"values": [{"t": "T", "x": 35.59, "y": -0.339}]},
      "mark": {"type": "text", "font": "Liberation Sans", "fontSize": 54, "align": "left", "baseline": "alphabetic", "color": "#000000"},
      "encoding": {
        "x": {"field": "x", "type": "quantitative", "axis": null},
        "y": {"field": "y", "type": "quantitative", "axis": null},
        "text": {"field": "t"}
      }
    },
    {
      "data": {"values": [
        {"t": "(GeV/", "x": 39.72, "y": -0.2797},
        {"t": ") or mass (GeV/", "x": 56.22, "y": -0.2797},
        {"t": "²)", "x": 96.28, "y": -0.2797}
      ]},
      "mark": {"type": "text", "font": "Liberation Sans", "fontSize": 87, "align": "left", "baseline": "alphabetic", "color": "#000000"},
      "encoding": {
        "x": {"field": "x", "type": "quantitative", "axis": null},
        "y": {"field": "y", "type": "quantitative", "axis": null},
        "text": {"field": "t"}
      }
    },
    {
      "data": {"values": [{"t": "s.", "x": -19.5, "y": 0.777}]},
      "mark": {"type": "text", "font": "Liberation Sans", "fontSize": 52, "align": "left", "baseline": "alphabetic", "color": "#1b4f8a"},
      "encoding": {
        "x": {"field": "x", "type": "quantitative", "axis": null},
        "y": {"field": "y", "type": "quantitative", "axis": null},
        "text": {"field": "t"}
      }
    }
  ]
}
